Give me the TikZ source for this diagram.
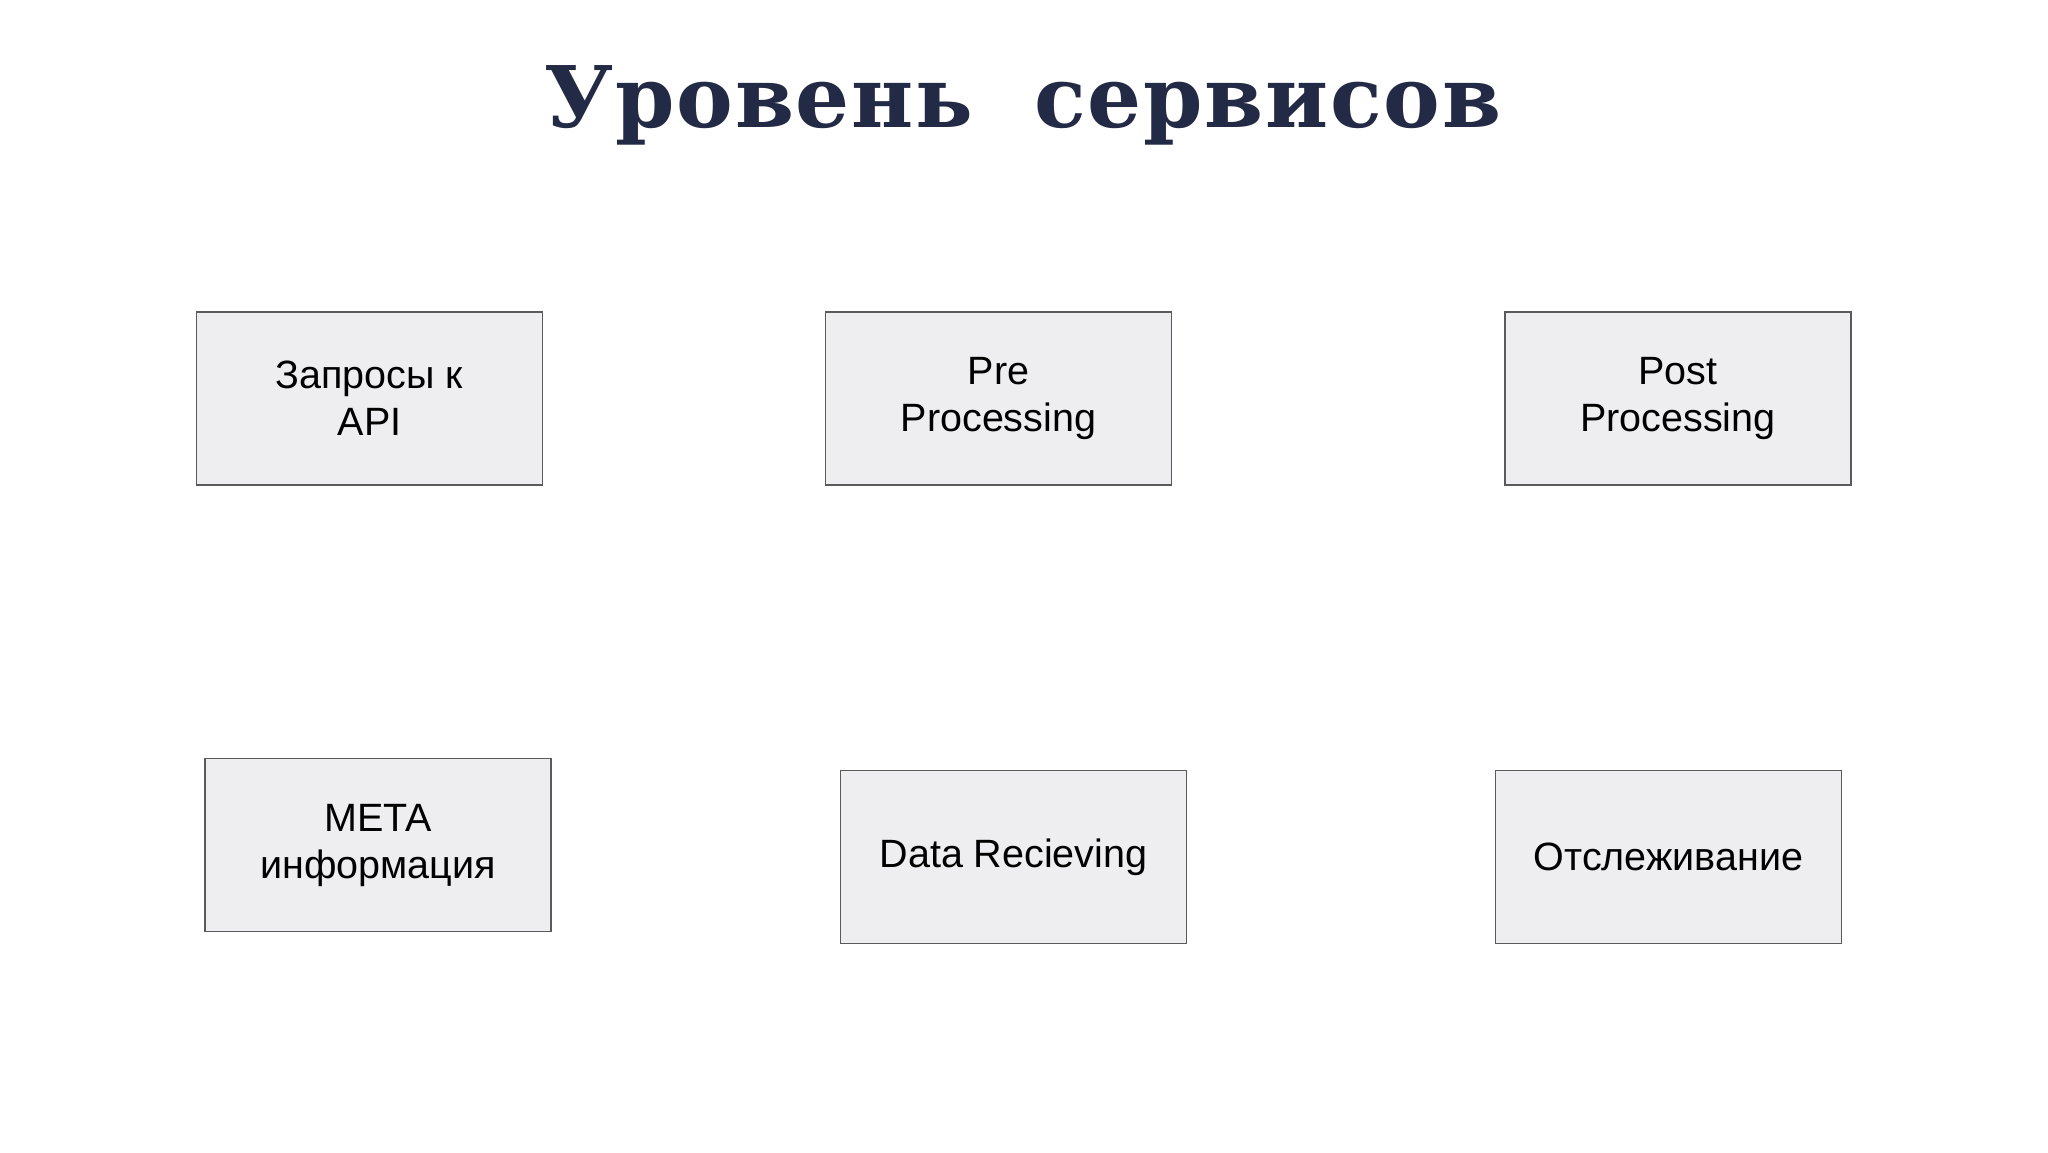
\documentclass[tikz,border=0pt]{standalone}
\usepackage{fontspec}
\setmainfont{Liberation Sans}
\newfontfamily\titlefont{DejaVu Serif}[LetterSpace=2]
\definecolor{boxfill}{HTML}{EEEEF0}
\definecolor{boxline}{HTML}{5A5A5A}
\definecolor{titleblue}{HTML}{232A45}

\begin{document}
\begin{tikzpicture}[x=1pt,y=-1pt]
    \tikzstyle{srv} = [draw=boxline, line width=1.8pt, fill=boxfill, rectangle,
        minimum width=346pt, minimum height=173pt, align=center,
        font=\fontsize{39.5}{47}\selectfont]
    \tikzstyle{ttl} = [draw=none, fill=none, anchor=base, text=titleblue,
        font=\titlefont\bfseries\fontsize{85}{92}\selectfont]
    \fill[white] (0,0) rectangle (2048,1152);
    \useasboundingbox (0,0) rectangle (2048,1152);

    \node[ttl] (t) at (1023,127) {Уровень\hspace{30pt} сервисов};

    \node[srv] (1) at (369.5,398.5) {Запросы к\\API};
    \node[srv] (2) at (998.5,398.5) {Pre\\Processing};
    \node[srv] (3) at (1678,398.5) {Post\\Processing};
    \node[srv] (4) at (378,845) {META\\информация};
    \node[srv] (5) at (1013.5,857) {Data Recieving};
    \node[srv] (6) at (1668.5,857) {Отслеживание};
\end{tikzpicture}
\end{document}
